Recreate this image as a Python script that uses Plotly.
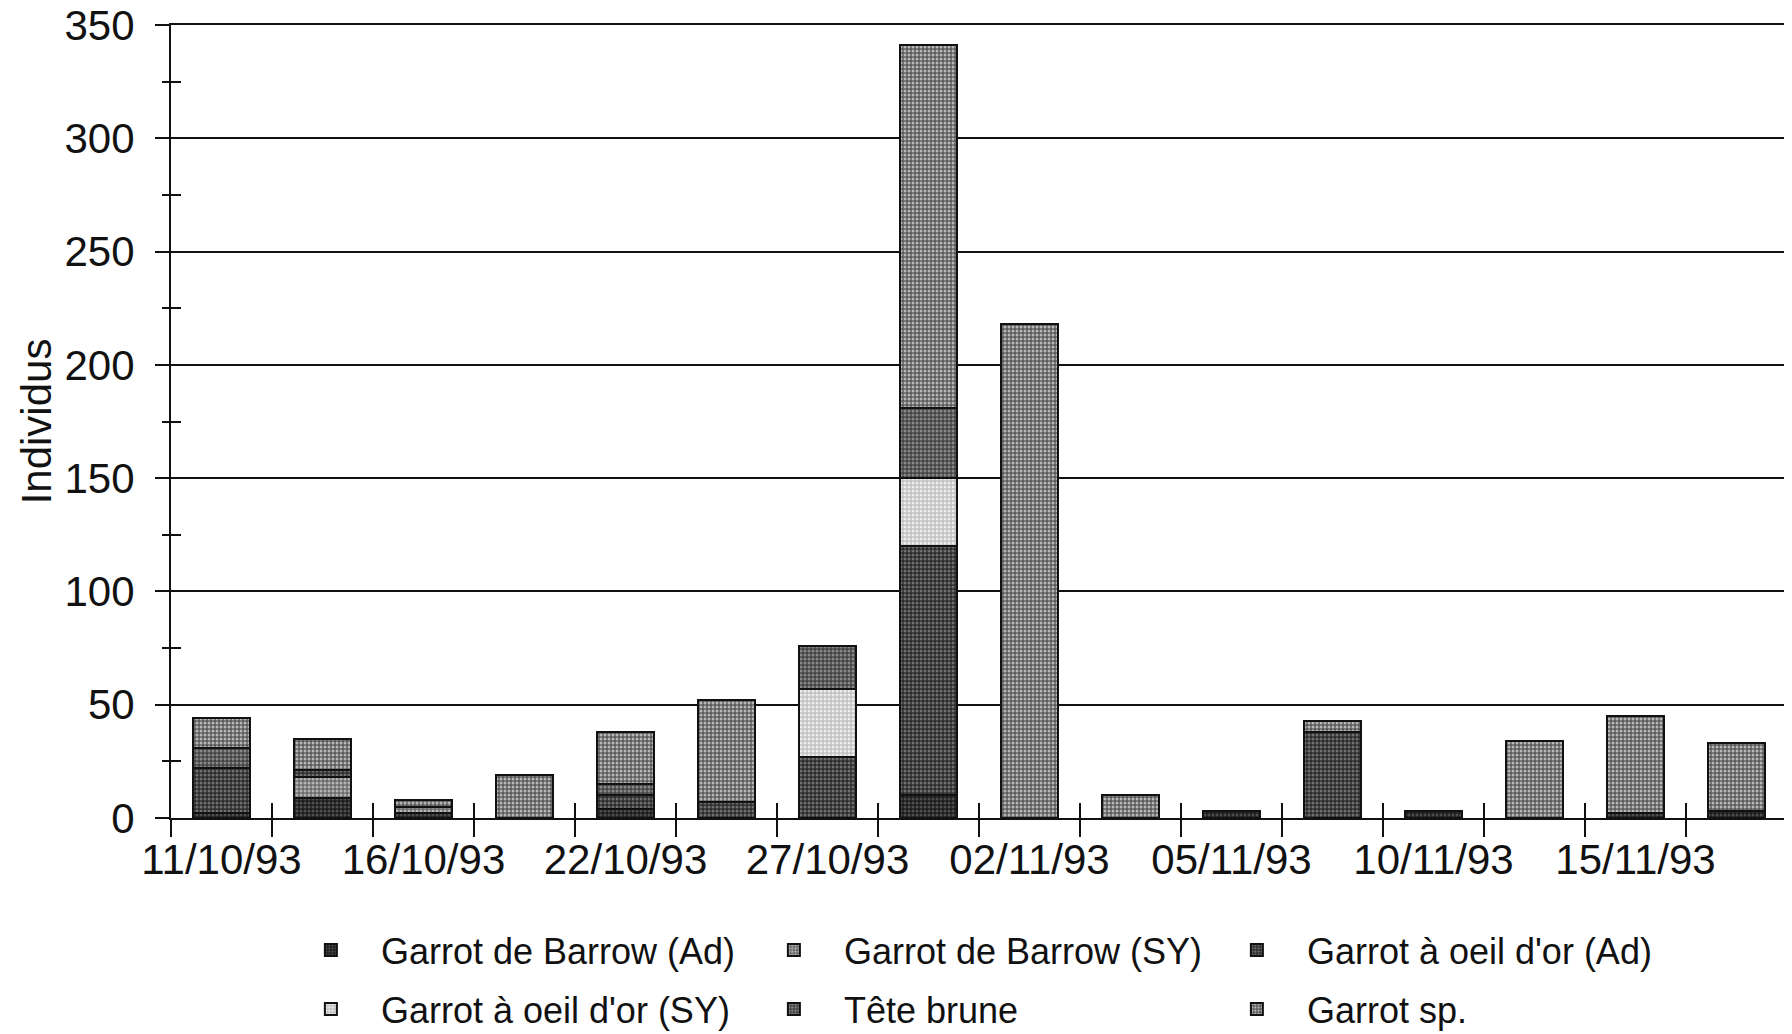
import plotly.graph_objects as go

dates = ["11/10/93", "14/10/93", "16/10/93", "19/10/93", "22/10/93", "25/10/93",
         "27/10/93", "30/10/93", "02/11/93", "04/11/93", "05/11/93", "08/11/93",
         "10/11/93", "13/11/93", "15/11/93", "17/11/93"]
label_every = 2

barrow_ad = [2, 9, 2, 0, 4, 0, 0, 10, 0, 0, 3, 0, 3, 0, 2, 3]
barrow_sy = [0, 9, 3, 0, 0, 0, 0, 0, 0, 0, 0, 0, 0, 0, 0, 0]
oeil_ad = [20, 3, 0, 0, 6, 7, 27, 110, 0, 0, 0, 38, 0, 0, 0, 0]
oeil_sy = [0, 0, 0, 0, 0, 0, 30, 30, 0, 0, 0, 0, 0, 0, 0, 0]
tete_brune = [9, 0, 0, 0, 5, 0, 19, 31, 0, 0, 0, 0, 0, 0, 0, 0]
garrot_sp = [13, 14, 3, 19, 23, 45, 0, 160, 218, 10, 0, 5, 0, 34, 43, 30]

series = [
    ("Garrot de Barrow (Ad)", barrow_ad, "#1c1c1c", "#4e4e4e", "legend"),
    ("Garrot de Barrow (SY)", barrow_sy, "#6a6a6a", "#b4b4b4", "legend"),
    ("Garrot à oeil d'or (Ad)", oeil_ad, "#2c2c2c", "#707070", "legend"),
    ("Garrot à oeil d'or (SY)", oeil_sy, "#c0c0c0", "#eeeeee", "legend2"),
    ("Tête brune", tete_brune, "#444444", "#888888", "legend2"),
    ("Garrot sp.", garrot_sp, "#5a5a5a", "#b8b8b8", "legend2"),
]

FONT = "Liberation Sans, Arial, sans-serif"

fig = go.Figure()
for name, vals, bg, fg, leg in series:
    fig.add_trace(go.Bar(
        x=dates, y=vals, name=name, legend=leg,
        marker=dict(
            color=bg,
            line=dict(color="#111111", width=2),
            pattern=dict(shape=".", fgcolor=fg, bgcolor=bg, size=4, solidity=0.45,
                         fillmode="replace"),
        ),
    ))

# invisible helper trace so the overlay axes (inner tick marks) are drawn
fig.add_trace(go.Scatter(x=dates, y=[None] * len(dates), xaxis="x2", yaxis="y2",
                         showlegend=False, hoverinfo="skip", mode="lines"))

ticktext = [d if i % label_every == 0 else "" for i, d in enumerate(dates)]

legend_common = dict(
    orientation="h", x=0.068, xanchor="left", yanchor="middle",
    font=dict(size=36, family=FONT, color="#111111"),
    entrywidth=358, entrywidthmode="pixels",
    traceorder="normal", itemwidth=90,
    bgcolor="rgba(0,0,0,0)",
)

fig.update_layout(
    width=1792, height=1034,
    barmode="stack", bargap=0.44,
    plot_bgcolor="white", paper_bgcolor="white",
    margin=dict(l=163, r=13, t=17, b=224, autoexpand=False),
    font=dict(family=FONT, color="#111111", size=42),
    xaxis=dict(
        type="category", categoryorder="array", categoryarray=dates,
        range=[-0.5, len(dates) - 0.5],
        tickmode="array", tickvals=dates, ticktext=ticktext, tickangle=0,
        tickson="boundaries", ticks="outside", ticklen=17, tickwidth=2, tickcolor="#111111",
        showline=True, mirror=True, linecolor="#111111", linewidth=2,
        showgrid=False, zeroline=False,
        tickfont=dict(size=42, family=FONT),
        ticklabelstandoff=4, ticklabeloverflow="allow",
    ),
    xaxis2=dict(
        type="category", categoryorder="array", categoryarray=dates,
        range=[-0.5, len(dates) - 0.5], overlaying="x", anchor="y", side="bottom",
        tickmode="array", tickvals=dates, ticktext=[""] * len(dates), tickangle=0,
        tickson="boundaries", ticks="inside", ticklen=15, tickwidth=2, tickcolor="#111111",
        showline=False, showgrid=False, zeroline=False, showticklabels=False,
    ),
    yaxis=dict(
        range=[0, 350], dtick=50, tick0=0,
        ticks="outside", ticklen=14, tickwidth=2, tickcolor="#111111",
        minor=dict(dtick=25, ticks="outside", ticklen=7, tickwidth=2, tickcolor="#111111",
                   showgrid=False),
        showline=True, mirror=True, linecolor="#111111", linewidth=2,
        showgrid=True, gridcolor="#111111", gridwidth=2,
        zeroline=False,
        tickfont=dict(size=42, family=FONT),
        ticklabelstandoff=12, ticklabeloverflow="allow",
        title=dict(text="Individus", font=dict(size=42, family=FONT), standoff=0),
    ),
    yaxis2=dict(
        range=[0, 350], dtick=25, tick0=0, overlaying="y", anchor="x", side="left",
        ticks="inside", ticklen=10, tickwidth=2, tickcolor="#111111",
        showline=False, showgrid=False, zeroline=False, showticklabels=False,
    ),
    legend=dict(legend_common, y=-0.1665),
    legend2=dict(legend_common, y=-0.241),
    showlegend=True,
)

fig.write_html("out.html")
